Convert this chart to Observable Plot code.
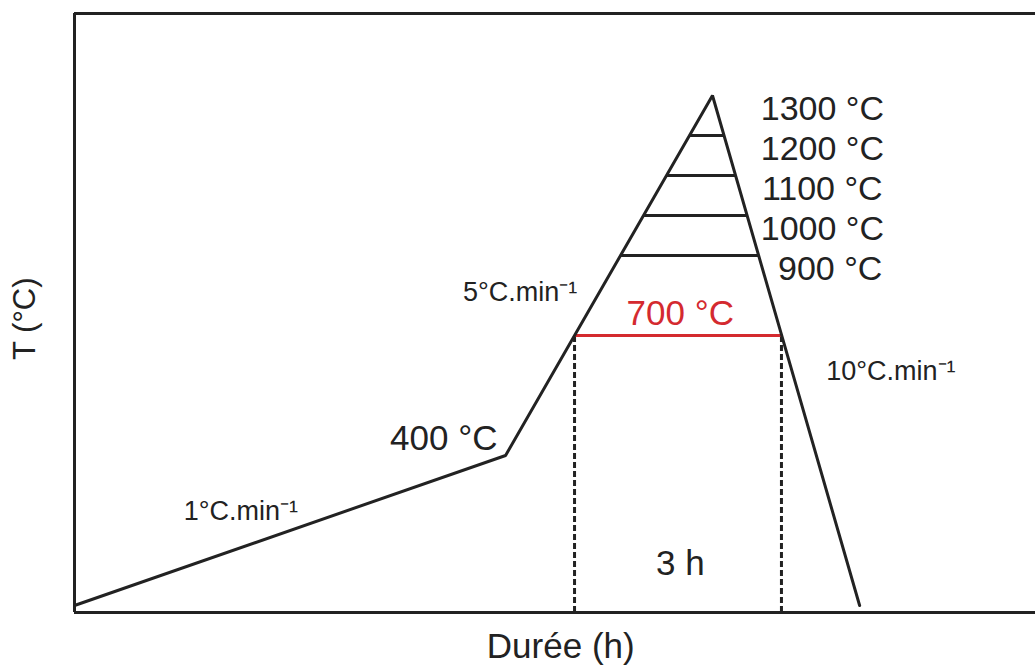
<!DOCTYPE html>
<html>
<head>
<meta charset="utf-8">
<script src="https://cdn.jsdelivr.net/npm/d3@7"></script>
<script src="https://cdn.jsdelivr.net/npm/@observablehq/plot@0.6"></script>
<style>
  html, body { margin: 0; padding: 0; background: #fff; }
  svg { display: block; }
</style>
</head>
<body>
<div id="chart"></div>
<script>
// Thermal profile (time in minutes, temperature in °C)
const profileTime = [0, 375, 555, 683];
const profileTemp = [25, 400, 1300, 25];

// Plateau levels drawn across the ramp triangle
const levelTemps = [1200, 1100, 1000, 900];
const levelStart = [535, 515, 495, 475];
const levelEnd = [565, 575, 585, 595];

// Labels of the maximum temperatures
const maxLabels = ["1300 °C", "1200 °C", "1100 °C", "1000 °C", "900 °C"];
const maxLabelTemps = [1300, 1200, 1100, 1000, 900];
const maxLabelTime = [597, 597, 598, 597, 612];

// Highlighted dwell at 700 °C for 3 h
const dwellTemp = 700;
const dwellStart = 435;
const dwellEnd = 615;

// Heating / cooling rates
const rateLabels = ["1°C.min⁻¹", "5°C.min⁻¹", "10°C.min⁻¹"];
const rateTime = [95, 338, 654];
const rateTemp = [260, 808, 610];

const yDomain = [7.5, 1505];
const xDomain = [0, 836];

const font = "Liberation Sans, Arial, Helvetica, sans-serif";
const ink = "#222";
const red = "#d42a2f";

const profile = profileTime.map((t, i) => ({t, T: profileTemp[i]}));
const levels = levelTemps.map((T, i) => ({T, x1: levelStart[i], x2: levelEnd[i]}));
const maxLab = maxLabels.map((s, i) => ({s, T: maxLabelTemps[i], t: maxLabelTime[i]}));
const rates = rateLabels.map((s, i) => ({s, t: rateTime[i], T: rateTemp[i]}));

const chart = Plot.plot({
  width: 1035,
  height: 668,
  marginTop: 13,
  marginBottom: 56,
  marginLeft: 74,
  marginRight: 0,
  x: {domain: xDomain, axis: null},
  y: {domain: yDomain, axis: null},
  style: {fontFamily: font, background: "#fff", overflow: "visible"},
  marks: [
    // frame (left, top, bottom)
    Plot.ruleY(yDomain, {stroke: ink, strokeWidth: 3}),
    Plot.ruleX([xDomain[0]], {stroke: ink, strokeWidth: 3}),
    // dwell verticals
    Plot.ruleX([dwellStart, dwellEnd], {y1: yDomain[0], y2: dwellTemp, stroke: ink, strokeWidth: 3, strokeDasharray: "6,3"}),
    // plateau levels
    Plot.link(levels, {x1: "x1", x2: "x2", y1: "T", y2: "T", stroke: ink, strokeWidth: 3}),
    Plot.link([{T: dwellTemp}], {x1: () => dwellStart, x2: () => dwellEnd, y1: "T", y2: "T", stroke: red, strokeWidth: 3}),
    // profile
    Plot.line(profile, {x: "t", y: "T", stroke: ink, strokeWidth: 3, strokeLinejoin: "miter"}),
    // labels
    Plot.text(maxLab, {x: "t", y: "T", text: "s", textAnchor: "start", dy: 14, fontSize: 34, fill: ink}),
    Plot.text(["400 °C"], {x: 368, y: 442, text: d => d, textAnchor: "end", fontSize: 35, fill: ink}),
    Plot.text(["700 °C"], {x: 527, y: 755, text: d => d, fontSize: 35, fill: red}),
    Plot.text(["3 h"], {x: 527, y: 130, text: d => d, fontSize: 35, fill: ink}),
    Plot.text(rates, {x: "t", y: "T", text: "s", textAnchor: "start", fontSize: 27, fill: ink}),
    Plot.text(["Durée (h)"], {x: 423, y: -78, text: d => d, fontSize: 35, fill: ink}),
    Plot.text(["T (°C)"], {x: -43, y: 742, text: d => d, rotate: -90, fontSize: 31, fill: ink})
  ]
});
document.getElementById("chart").appendChild(chart);
</script>
</body>
</html>
